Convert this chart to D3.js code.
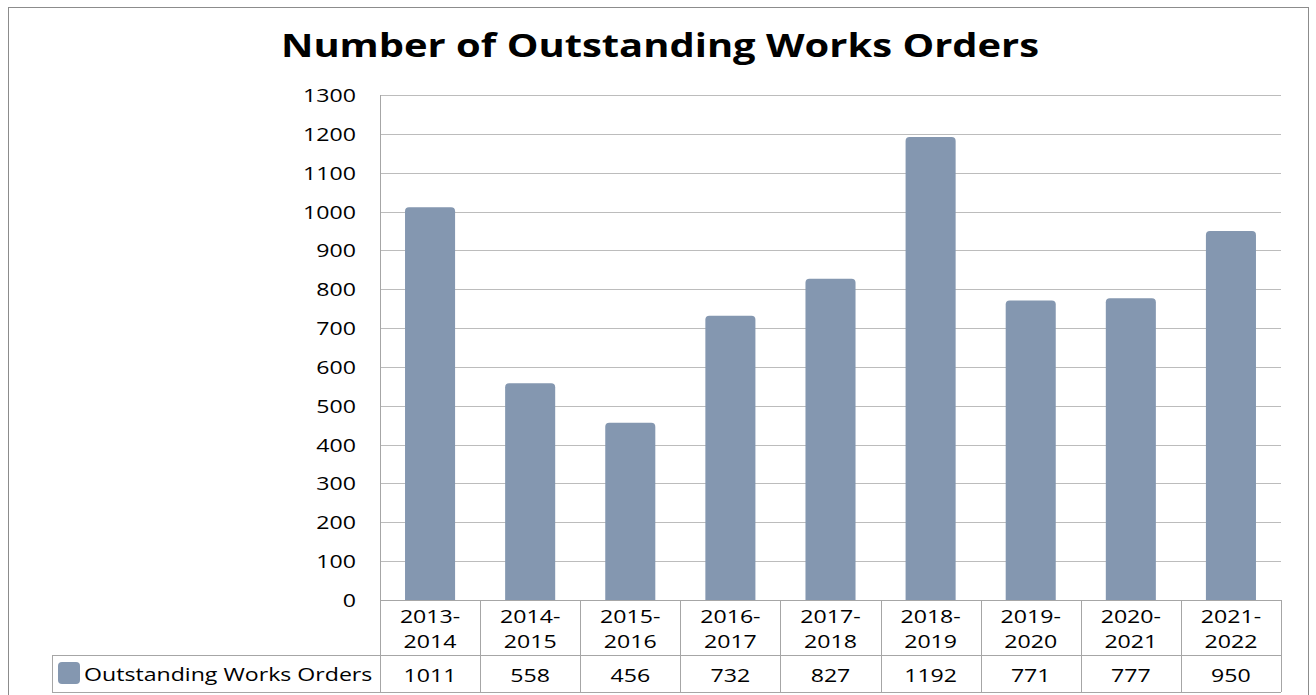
<!DOCTYPE html>
<html>
<head>
<meta charset="utf-8">
<script src="https://cdn.jsdelivr.net/npm/d3@7"></script>
<style>
	body { margin: 0; background: #fff; }
	svg { font-family: 'Open Sans', sans-serif; }
	.tickLabel { font-size: 18.5px; fill: #000; }
	.tableText { font-size: 18.5px; fill: #000; }
</style>
</head>
<body>
<script>
const title = 'Number of Outstanding Works Orders';
const seriesName = 'Outstanding Works Orders';
const categories = ['2013-2014', '2014-2015', '2015-2016', '2016-2017', '2017-2018', '2018-2019', '2019-2020', '2020-2021', '2021-2022'];
const values = [1011, 558, 456, 732, 827, 1192, 771, 777, 950];
const yTicks = [0, 100, 200, 300, 400, 500, 600, 700, 800, 900, 1000, 1100, 1200, 1300];

const width = 1316, height = 695;
const plot = { left: 380, right: 1281, top: 95, bottom: 600 };
const rowCat = 55, rowVal = 37, legendLeft = 52;
const barColor = '#8497b0', gridColor = '#bcbcbc', tableColor = '#a6a6a6';
const sx = 1.25; // the original text is drawn wide

const svg = d3.select('body').append('svg')
	.attr('width', width).attr('height', height)

// place a text with horizontal stretch
const at = (px, py, s) => `translate(${px},${py}) scale(${s || sx},1)`;

// outer frame
svg.append('rect')
	.attr('x', 8.5).attr('y', 7.5)
	.attr('width', 1300).attr('height', 700)
	.style('fill', 'none').style('stroke', '#8c8c8c')

svg.append('text')
	.attr('transform', at(660, 57, 1.21))
	.attr('text-anchor', 'middle')
	.style('font-size', '33px').style('font-weight', 'bold')
	.text(title)

const x = d3.scaleBand().domain(categories).range([plot.left, plot.right]).paddingInner(0.5).paddingOuter(0.25);
const y = d3.scaleLinear().domain([0, 1300]).range([plot.bottom, plot.top]);
const cellW = (plot.right - plot.left) / categories.length;

// gridlines
svg.append('g').selectAll('line')
	.data(yTicks.slice(1))
	.enter().append('line')
	.attr('x1', plot.left).attr('x2', plot.right)
	.attr('y1', d => Math.round(y(d)) + 0.5).attr('y2', d => Math.round(y(d)) + 0.5)
	.style('stroke', gridColor).style('stroke-width', 1)

// y tick labels
svg.append('g').selectAll('text')
	.data(yTicks)
	.enter().append('text')
	.attr('class', 'tickLabel')
	.attr('transform', d => at(356, y(d) + 7))
	.attr('text-anchor', 'end')
	.text(d => d)

// bars
svg.append('g').selectAll('path')
	.data(values)
	.enter().append('path')
	.attr('d', (d, i) => {
		const x0 = x(categories[i]), w = x.bandwidth(), y0 = y(d), r = 4;
		return `M${x0},${plot.bottom}V${y0 + r}Q${x0},${y0} ${x0 + r},${y0}H${x0 + w - r}Q${x0 + w},${y0} ${x0 + w},${y0 + r}V${plot.bottom}Z`;
	})
	.style('fill', barColor)

// y axis line
svg.append('line')
	.attr('x1', plot.left + 0.5).attr('x2', plot.left + 0.5)
	.attr('y1', plot.top).attr('y2', plot.bottom)
	.style('stroke', tableColor)

// data table
const table = svg.append('g').style('stroke', tableColor).style('fill', 'none')
const tBottom = plot.bottom + rowCat + rowVal;
table.append('line').attr('x1', plot.left).attr('x2', plot.right).attr('y1', plot.bottom + 0.5).attr('y2', plot.bottom + 0.5)
table.append('line').attr('x1', legendLeft).attr('x2', plot.right).attr('y1', plot.bottom + rowCat + 0.5).attr('y2', plot.bottom + rowCat + 0.5)
table.append('line').attr('x1', legendLeft).attr('x2', plot.right).attr('y1', tBottom + 0.5).attr('y2', tBottom + 0.5)
table.append('line').attr('x1', legendLeft + 0.5).attr('x2', legendLeft + 0.5).attr('y1', plot.bottom + rowCat).attr('y2', tBottom)
table.selectAll('.colLine')
	.data(d3.range(categories.length + 1))
	.enter().append('line')
	.attr('class', 'colLine')
	.attr('x1', i => Math.round(plot.left + i * cellW) + 0.5).attr('x2', i => Math.round(plot.left + i * cellW) + 0.5)
	.attr('y1', plot.bottom).attr('y2', tBottom)

const catText = svg.append('g').selectAll('text')
	.data(categories)
	.enter().append('text')
	.attr('class', 'tableText')
	.attr('text-anchor', 'middle')
	.attr('transform', d => at(x(d) + x.bandwidth() / 2, plot.bottom + 23))
catText.selectAll('tspan')
	.data(d => d.split('-').map((s, j, a) => j < a.length - 1 ? s + '-' : s))
	.enter().append('tspan')
	.attr('x', 0)
	.attr('y', (d, j) => j * 25)
	.text(d => d)

svg.append('g').selectAll('text')
	.data(values)
	.enter().append('text')
	.attr('class', 'tableText')
	.attr('text-anchor', 'middle')
	.attr('transform', (d, i) => at(x(categories[i]) + x.bandwidth() / 2, plot.bottom + rowCat + 27))
	.text(d => d)

// legend
svg.append('rect')
	.attr('x', 58).attr('y', plot.bottom + rowCat + 7)
	.attr('width', 22).attr('height', 22).attr('rx', 4)
	.style('fill', barColor)
svg.append('text')
	.attr('class', 'tableText')
	.attr('transform', at(84, plot.bottom + rowCat + 26))
	.text(seriesName)
</script>
</body>
</html>
